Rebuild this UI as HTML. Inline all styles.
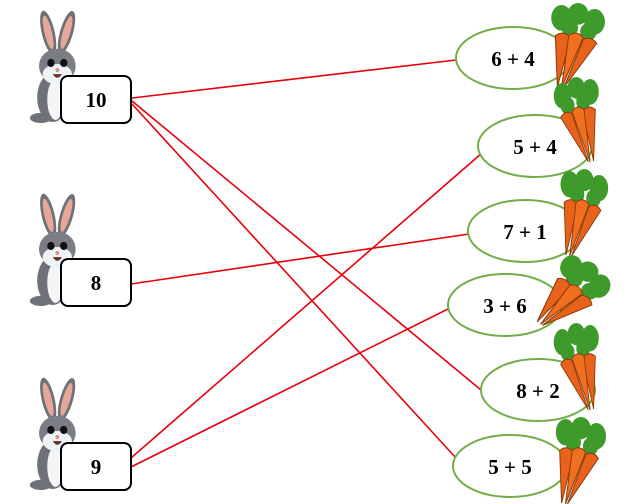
<!DOCTYPE html>
<html><head><meta charset="utf-8"><style>
html,body{margin:0;padding:0;background:#fff;}
svg{display:block}
text{font-family:"Liberation Serif",serif;font-weight:bold;font-size:21px;text-anchor:middle;dominant-baseline:central;fill:#000}
</style></head><body>
<svg width="641" height="504" viewBox="0 0 641 504" xmlns="http://www.w3.org/2000/svg">
<defs>
<symbol id="bunny" viewBox="0 0 60 110" preserveAspectRatio="none" overflow="visible">
  <ellipse cx="22" cy="22" rx="7" ry="22" fill="#6e7178" transform="rotate(-15 22 22)"/>
  <ellipse cx="22" cy="22" rx="4" ry="17" fill="#e7a89a" transform="rotate(-15 22 22)"/>
  <ellipse cx="42" cy="22" rx="7" ry="22" fill="#6e7178" transform="rotate(18 42 22)"/>
  <ellipse cx="42" cy="22" rx="4" ry="17" fill="#e7a89a" transform="rotate(18 42 22)"/>
  <ellipse cx="27" cy="86" rx="17" ry="24" fill="#6e7178"/>
  <ellipse cx="30" cy="88" rx="9" ry="20" fill="#f3f5f7"/>
  <ellipse cx="14" cy="106" rx="12" ry="5" fill="#6e7178"/>
  <ellipse cx="32" cy="55" rx="20" ry="17" fill="#7a7d84"/>
  <ellipse cx="32" cy="63" rx="16" ry="10" fill="#eef3f6"/>
  <circle cx="25" cy="52" r="4" fill="#111"/><circle cx="39" cy="52" r="4" fill="#111"/>
  <circle cx="32" cy="59" r="2" fill="#e08a80"/>
  <path d="M27 63 Q32 70 37 63 Z" fill="#6b2b22"/>
</symbol>
<symbol id="carrot" viewBox="0 0 60 85" preserveAspectRatio="none" overflow="visible">
  <g fill="#3f9a2c">
    <ellipse cx="16" cy="14" rx="10" ry="13"/><ellipse cx="32" cy="10" rx="10" ry="11"/><ellipse cx="48" cy="18" rx="10" ry="13"/>
    <ellipse cx="24" cy="24" rx="8" ry="9"/><ellipse cx="42" cy="28" rx="8" ry="9"/>
  </g>
  <path d="M10 32 Q18 26 25 34 L12 84 Z" fill="#e8621b" stroke="#8a3a0a" stroke-width="1"/>
  <path d="M23 32 Q31 26 37 34 L16 85 Z" fill="#f07020" stroke="#8a3a0a" stroke-width="1"/>
  <path d="M37 36 Q45 32 50 40 L18 85 Z" fill="#e8621b" stroke="#8a3a0a" stroke-width="1"/>
</symbol>
</defs>

<use href="#bunny" x="28" y="10" width="55" height="112"/>
<use href="#bunny" x="28" y="193" width="55" height="112"/>
<use href="#bunny" x="28" y="377" width="55" height="112"/>

<g stroke="#e8000b" stroke-width="1.6" fill="none">
  <line x1="132" y1="98" x2="456" y2="60"/>
  <line x1="132" y1="101" x2="481" y2="390"/>
  <line x1="132" y1="104" x2="456" y2="458"/>
  <line x1="131" y1="284" x2="469" y2="234"/>
  <line x1="131" y1="458" x2="482" y2="153"/>
  <line x1="131" y1="467" x2="450" y2="308"/>
</g>

<g fill="#fff" stroke="#000" stroke-width="2">
  <rect x="61" y="76" width="70" height="47" rx="7"/>
  <rect x="61" y="259" width="70" height="47" rx="7"/>
  <rect x="61" y="443" width="70" height="47" rx="7"/>
</g>
<text x="96" y="100">10</text>
<text x="96" y="283">8</text>
<text x="96" y="467">9</text>

<g fill="#fff" stroke="#72ad4a" stroke-width="2">
  <ellipse cx="513" cy="58" rx="57" ry="31"/>
  <ellipse cx="535" cy="146" rx="57" ry="31"/>
  <ellipse cx="525" cy="231" rx="57" ry="31"/>
  <ellipse cx="505" cy="305" rx="57" ry="31"/>
  <ellipse cx="538" cy="390" rx="57" ry="31"/>
  <ellipse cx="510" cy="466" rx="57" ry="31"/>
</g>
<text x="513" y="59">6 + 4</text>
<text x="535" y="147">5 + 4</text>
<text x="525" y="232">7 + 1</text>
<text x="505" y="306">3 + 6</text>
<text x="538" y="391">8 + 2</text>
<text x="510" y="467">5 + 5</text>

<use href="#carrot" x="545" y="4" width="62" height="84"/>
<use href="#carrot" x="552" y="78" width="52" height="84" transform="matrix(-1 0 0 1 1156 0)"/>
<use href="#carrot" x="555" y="170" width="55" height="86"/>
<use href="#carrot" x="540" y="258" width="64" height="78" transform="rotate(28 572 297)"/>
<use href="#carrot" x="552" y="324" width="52" height="86" transform="matrix(-1 0 0 1 1156 0)"/>
<use href="#carrot" x="550" y="418" width="58" height="86"/>
</svg>
</body></html>
